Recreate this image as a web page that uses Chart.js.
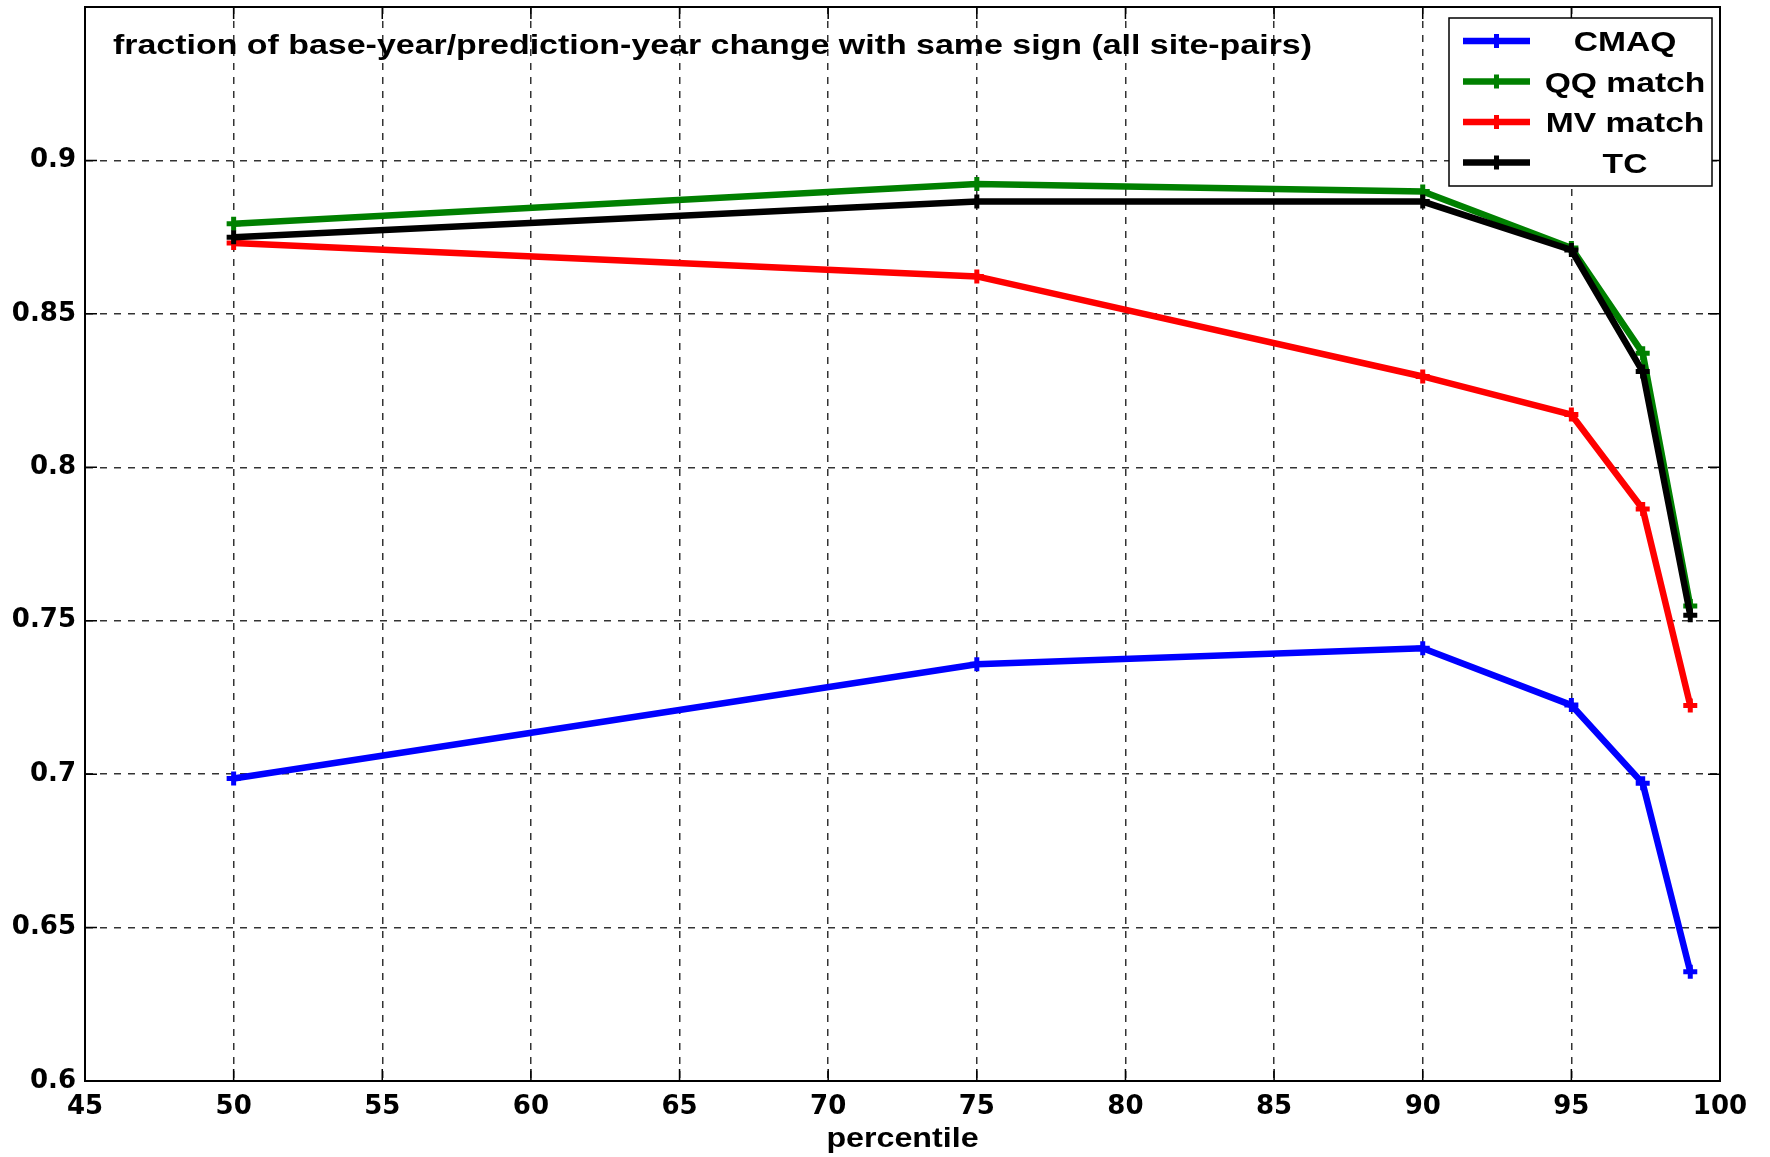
<!DOCTYPE html>
<html>
<head>
<meta charset="utf-8">
<script src="https://cdn.jsdelivr.net/npm/chart.js@4/dist/chart.umd.min.js"></script>
<style>
  html, body { margin: 0; padding: 0; background: #fff; }
  #wrap { width: 1770px; height: 1157px; }
</style>
</head>
<body>
<div id="wrap"><canvas id="c" width="1770" height="1157"></canvas></div>
<script>
// ---- data ----
const percentiles = [50, 75, 90, 95, 97.4, 99];
const seriesNames = ['CMAQ', 'QQ match', 'MV match', 'TC'];
const cmaq    = [0.6986, 0.7358, 0.7410, 0.7225, 0.6970, 0.6356];
const qqMatch = [0.8794, 0.8923, 0.8899, 0.8715, 0.8372, 0.7548];
const mvMatch = [0.8731, 0.8622, 0.8296, 0.8172, 0.7864, 0.7224];
const tc      = [0.8750, 0.8866, 0.8866, 0.8708, 0.8312, 0.7518];
const xTickLabels = ['45','50','55','60','65','70','75','80','85','90','95','100'];
const yTickLabels = ['0.6','0.65','0.7','0.75','0.8','0.85','0.9',''];
const titleText = 'fraction of base-year/prediction-year change with same sign (all site-pairs)';
const xAxisTitle = 'percentile';

const colors = ['#0000FF', '#008000', '#FF0000', '#000000'];
const allValues = [cmaq, qqMatch, mvMatch, tc];
const drawOrder = [3, 2, 1, 0];

const FONT = '"Liberation Sans", Arial, Helvetica, sans-serif';
const TICKFONT = '"DejaVu Sans", "Liberation Sans", sans-serif';

const datasets = allValues.map((vals, i) => ({
  label: seriesNames[i],
  data: percentiles.map((p, j) => ({ x: p, y: vals[j] })),
  borderColor: colors[i],
  backgroundColor: colors[i],
  borderWidth: 6.5,
  pointStyle: 'cross',
  pointRadius: 7,
  pointBorderWidth: 5,
  pointHoverRadius: 7,
  tension: 0,
  order: drawOrder[i]
}));

function stretchText(ctx, text, x, y, font, sx, align) {
  ctx.save();
  ctx.font = font;
  ctx.textBaseline = 'alphabetic';
  ctx.textAlign = 'left';
  const w = ctx.measureText(text).width * sx;
  const x0 = align === 'center' ? x - w / 2 : x;
  ctx.translate(x0, y);
  ctx.scale(sx, 1);
  ctx.fillStyle = '#000';
  ctx.fillText(text, 0, 0);
  ctx.restore();
}

const overlay = {
  id: 'overlay',
  afterDraw(chart) {
    const { ctx, chartArea: a, scales: { x, y } } = chart;
    ctx.save();
    // inner tick marks
    ctx.strokeStyle = '#000';
    ctx.lineWidth = 1.5;
    ctx.setLineDash([]);
    const tl = 12;
    ctx.beginPath();
    x.ticks.forEach(t => {
      const px = x.getPixelForValue(t.value);
      ctx.moveTo(px, a.bottom); ctx.lineTo(px, a.bottom - tl);
      ctx.moveTo(px, a.top); ctx.lineTo(px, a.top + tl);
    });
    y.ticks.forEach(t => {
      const py = y.getPixelForValue(t.value);
      ctx.moveTo(a.left, py); ctx.lineTo(a.left + tl, py);
      ctx.moveTo(a.right, py); ctx.lineTo(a.right - tl, py);
    });
    ctx.stroke();
    // box
    ctx.lineWidth = 2;
    ctx.strokeRect(a.left, a.top, a.right - a.left, a.bottom - a.top);

    // title inside the plot
    ctx.font = 'bold 27px ' + FONT;
    const tw = ctx.measureText(titleText).width;
    const sxT = 1199 / tw;
    stretchText(ctx, titleText, a.left + 28, a.top + 47, 'bold 27px ' + FONT, sxT, 'left');

    // x axis title
    stretchText(ctx, xAxisTitle, (a.left + a.right) / 2, a.bottom + 66, 'bold 28px ' + FONT, 1.15, 'center');

    // legend
    const bx = a.right - 271, by = a.top + 11, bw = 263, bh = 168;
    ctx.fillStyle = '#fff';
    ctx.fillRect(bx, by, bw, bh);
    ctx.strokeStyle = '#000';
    ctx.lineWidth = 1.5;
    ctx.strokeRect(bx, by, bw, bh);
    chart.data.datasets.forEach((ds, i) => {
      const ry = by + 23 + i * 40.5;
      const lx0 = bx + 14, lx1 = bx + 81, mx = (lx0 + lx1) / 2;
      ctx.strokeStyle = ds.borderColor;
      ctx.lineWidth = 6.5;
      ctx.beginPath(); ctx.moveTo(lx0, ry); ctx.lineTo(lx1, ry); ctx.stroke();
      ctx.lineWidth = 5;
      ctx.beginPath();
      ctx.moveTo(mx - 7, ry); ctx.lineTo(mx + 7, ry);
      ctx.moveTo(mx, ry - 7); ctx.lineTo(mx, ry + 7);
      ctx.stroke();
      stretchText(ctx, ds.label, bx + 176, ry + 10, 'bold 28px ' + FONT, 1.2, 'center');
    });
    ctx.restore();
  }
};

new Chart(document.getElementById('c'), {
  type: 'line',
  data: { datasets },
  options: {
    responsive: false,
    devicePixelRatio: 1,
    animation: false,
    events: [],
    layout: { autoPadding: false, padding: { top: 7, right: 50, left: 0, bottom: 0 } },
    plugins: { legend: { display: false }, tooltip: { enabled: false }, title: { display: false } },
    scales: {
      x: {
        type: 'linear',
        min: 45, max: 100,
        afterFit(s) { s.height = 76; s.paddingLeft = 0; s.paddingRight = 0; },
        afterBuildTicks(s) { s.ticks = xTickLabels.map(l => ({ value: Number(l) })); },
        ticks: {
          autoSkip: false,
          maxRotation: 0,
          padding: 11,
          color: '#000',
          font: { family: TICKFONT, weight: 'bold', size: 26 },
          callback: (v, i) => xTickLabels[i]
        },
        grid: { color: 'rgba(0,0,0,0.8)', lineWidth: 1.5, drawTicks: false },
        border: { display: true, color: '#000', width: 2, dash: [7, 7] }
      },
      y: {
        type: 'linear',
        min: 0.6, max: 0.95,
        afterFit(s) { s.width = 85; s.paddingTop = 0; s.paddingBottom = 0; },
        afterBuildTicks(s) { s.ticks = yTickLabels.map((l, i) => ({ value: 0.6 + i * 0.05 })); },
        ticks: {
          autoSkip: false,
          padding: 9,
          color: '#000',
          font: { family: TICKFONT, weight: 'bold', size: 26 },
          callback: (v, i) => yTickLabels[i]
        },
        grid: { color: 'rgba(0,0,0,0.8)', lineWidth: 1.5, drawTicks: false },
        border: { display: true, color: '#000', width: 2, dash: [7, 7] }
      }
    }
  },
  plugins: [overlay]
});
</script>
</body>
</html>
